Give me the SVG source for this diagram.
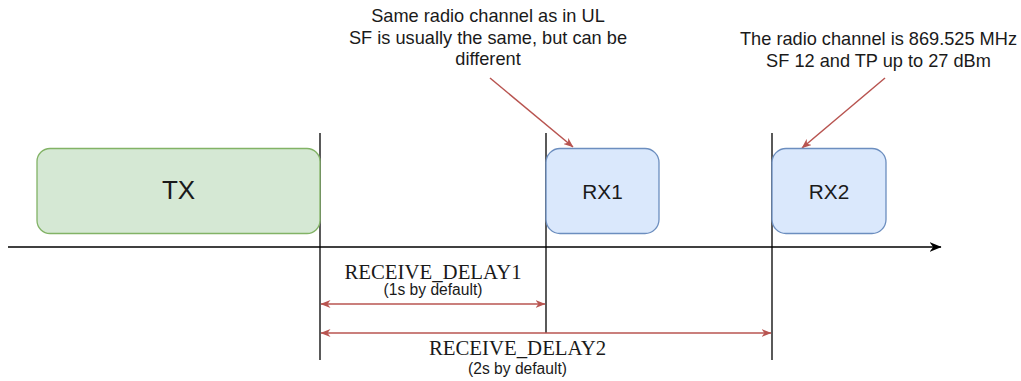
<svg xmlns="http://www.w3.org/2000/svg" width="1021" height="381" viewBox="0 0 1021 381">
<style>
.sans{font-family:"Liberation Sans",Arial,sans-serif;fill:#1a1a1a;text-anchor:middle}
.serif{font-family:"Liberation Serif","Times New Roman",serif;fill:#1a1a1a;text-anchor:middle}
.tx{fill:#d5e8d4;stroke:#82b366;stroke-width:1.3}
.rx{fill:#dae8fc;stroke:#6c8ebf;stroke-width:1.3}
.v{stroke:#000;stroke-width:1.3;fill:none}
.red{stroke:#b85450;stroke-width:1.5;fill:none}
</style>
<defs>
<marker id="ra" viewBox="0 0 10 8" refX="9.5" refY="4" markerWidth="10" markerHeight="8" markerUnits="userSpaceOnUse" orient="auto-start-reverse">
<path d="M0,0 L10,4 L0,8 L3,4 Z" fill="#b85450"/>
</marker>
<marker id="ka" viewBox="0 0 10 8" refX="9.5" refY="4" markerWidth="12" markerHeight="10" markerUnits="userSpaceOnUse" orient="auto">
<path d="M0,0 L10,4 L0,8 L3,4 Z" fill="#000"/>
</marker>
</defs>
<g id="connectors">
<line class="v" x1="8" y1="247" x2="941" y2="247" marker-end="url(#ka)"/>
<line class="v" x1="320" y1="133" x2="320" y2="360"/>
<line class="v" x1="546" y1="133" x2="546" y2="333"/>
<line class="v" x1="772" y1="133" x2="772" y2="360"/>
<line class="red" x1="321" y1="304" x2="545" y2="304" marker-start="url(#ra)" marker-end="url(#ra)"/>
<line class="red" x1="321" y1="333" x2="771" y2="333" marker-start="url(#ra)" marker-end="url(#ra)"/>
<line class="red" x1="490" y1="78" x2="573" y2="147" marker-end="url(#ra)"/>
<line class="red" x1="885" y1="78" x2="802" y2="148" marker-end="url(#ra)"/>
</g>
<g id="tx">
<rect class="tx" x="37" y="148.5" width="283" height="85" rx="13"/>
<text class="sans" x="178.5" y="199" font-size="26">TX</text>
</g>
<g id="rx1">
<rect class="rx" x="546" y="148.5" width="113" height="85" rx="14"/>
<text class="sans" x="602.5" y="199" font-size="20.8">RX1</text>
</g>
<g id="rx2">
<rect class="rx" x="772" y="148.5" width="114" height="85" rx="14"/>
<text class="sans" x="829" y="199" font-size="20.8">RX2</text>
</g>
<g id="note1">
<text class="sans" font-size="18.2"><tspan x="488" y="22">Same radio channel as in UL</tspan><tspan x="488" y="43.5">SF is usually the same, but can be</tspan><tspan x="488" y="65">different</tspan></text>
</g>
<g id="note2">
<text class="sans" font-size="18.2"><tspan x="878.5" y="45">The radio channel is 869.525 MHz</tspan><tspan x="878.5" y="66.5">SF 12 and TP up to 27 dBm</tspan></text>
</g>
<g id="delay1">
<text class="serif" x="433" y="279" font-size="20.8">RECEIVE_DELAY1</text>
<text class="sans" x="433" y="295" font-size="15.6">(1s by default)</text>
</g>
<g id="delay2">
<text class="serif" x="517.5" y="355" font-size="20.8">RECEIVE_DELAY2</text>
<text class="sans" x="517.5" y="374" font-size="15.6">(2s by default)</text>
</g>
</svg>
